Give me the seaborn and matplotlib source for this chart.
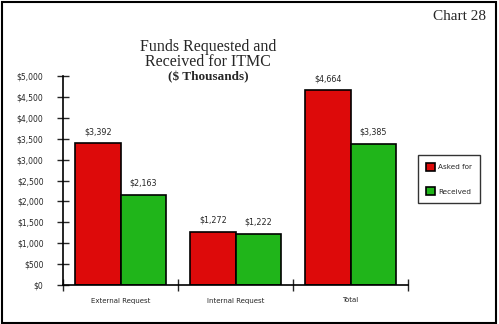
import matplotlib
matplotlib.use("Agg")
import matplotlib.pyplot as plt
import seaborn as sns
import pandas as pd
from matplotlib.patches import Rectangle
from matplotlib.ticker import FuncFormatter, FixedLocator

categories = ["External Request", "Internal Request", "Total"]
asked_for = [3392, 1272, 4664]
received = [2163, 1222, 3385]
series_names = ["Asked for", "Received"]
y_ticks = [0, 500, 1000, 1500, 2000, 2500, 3000, 3500, 4000, 4500, 5000]

df = pd.DataFrame({
    "category": categories * 2,
    "series": [series_names[0]] * 3 + [series_names[1]] * 3,
    "value": asked_for + received,
})

sns.set_style("white")
plt.rcParams["font.family"] = ["DejaVu Sans"]

W, H = 499, 324
fig = plt.figure(figsize=(W / 100, H / 100), dpi=100)
ax = fig.add_axes([63 / W, (H - 285) / H, (408 - 63) / W, (285 - 76) / H])

palette = {"Asked for": "#DD0A0A", "Received": "#20B51A"}
sns.barplot(data=df, x="category", y="value", hue="series", order=categories,
            hue_order=series_names, palette=palette, width=0.79,
            edgecolor="black", linewidth=1.2, saturation=1, ax=ax, legend=True)

ax.set_xlim(-0.5, 2.5)
ax.set_ylim(0, 5000)
ax.set_xlabel("")
ax.set_ylabel("")
ax.set_yticks(y_ticks)
ax.yaxis.set_major_formatter(FuncFormatter(lambda v, p: f"${int(v):,}"))
for s in ["top", "right"]:
    ax.spines[s].set_visible(False)
for s in ["left", "bottom"]:
    ax.spines[s].set_linewidth(1.2)
    ax.spines[s].set_color("black")

ax.tick_params(axis="y", direction="inout", length=8, width=1, pad=10,
               labelsize=5.5, left=True)
ax.tick_params(axis="x", which="major", length=0, pad=9, labelsize=5.0)
ax.xaxis.set_minor_locator(FixedLocator([-0.5, 0.5, 1.5, 2.5]))
ax.tick_params(axis="x", which="minor", direction="inout", length=8, width=1,
               bottom=True)

for cont in ax.containers:
    ax.bar_label(cont, labels=[f"${int(v):,}" for v in cont.datavalues],
                 padding=5, fontsize=5.8)

leg = ax.legend(loc="upper left", bbox_to_anchor=(418 / W, 1 - 155 / H),
                bbox_transform=fig.transFigure, frameon=True, fancybox=False,
                fontsize=5.2, handlelength=1.3, handleheight=1.3,
                labelspacing=2.3, borderpad=1.1, handletextpad=0.4,
                borderaxespad=0)
leg.get_frame().set_edgecolor("black")
leg.get_frame().set_linewidth(1.0)

fig.text(208 / W, 1 - 54.5 / H, "Funds Requested and\nReceived for ITMC",
         ha="center", va="center", fontsize=11.5, family="Liberation Serif",
         linespacing=0.95)
fig.text(208 / W, 1 - 77 / H, "($ Thousands)", ha="center", va="center",
         fontsize=9.5, family="Liberation Serif", weight="bold")
fig.text(486 / W, 1 - 17 / H, "Chart 28", ha="right", va="center",
         fontsize=11, family="Liberation Serif")

fig.patches.append(Rectangle((1.5 / W, 1.5 / H), (496 - 1.5) / W, (322 - 1.5) / H,
                             transform=fig.transFigure, fill=False,
                             edgecolor="black", linewidth=1.5))

fig.savefig("out.png", dpi=100)
